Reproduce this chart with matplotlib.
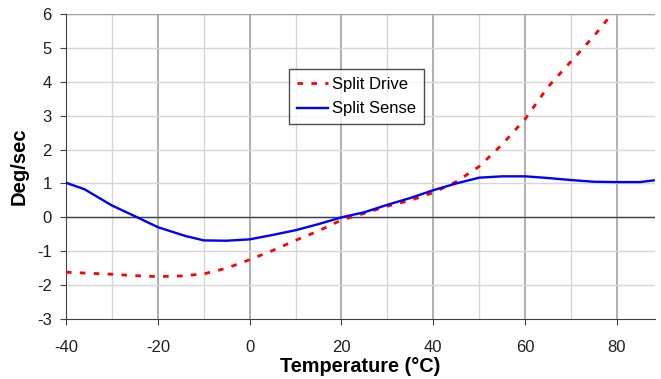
import matplotlib
matplotlib.use("Agg")
import matplotlib.pyplot as plt

# === DATA ===
temp_sense = [-40, -36, -30, -24, -20, -14, -10, -5, 0, 5, 10, 15, 20, 25,
              30, 35, 40, 45, 50, 55, 60, 65, 70, 75, 80, 85, 88]
split_sense = [1.02, 0.83, 0.35, -0.03, -0.29, -0.55, -0.68, -0.69, -0.65,
               -0.52, -0.38, -0.2, 0.0, 0.15, 0.37, 0.57, 0.8, 1.0, 1.17,
               1.21, 1.21, 1.16, 1.1, 1.05, 1.04, 1.04, 1.09]

temp_drive = [-40, -35, -30, -25, -20, -15, -10, -5, 0, 5, 10, 15, 20, 25,
              30, 35, 40, 45, 50, 55, 60, 65, 70, 75, 78]
split_drive = [-1.62, -1.65, -1.68, -1.72, -1.75, -1.73, -1.67, -1.5, -1.25,
               -0.98, -0.68, -0.4, -0.08, 0.12, 0.33, 0.5, 0.73, 1.05, 1.5,
               2.15, 2.9, 3.85, 4.6, 5.35, 5.85]

x_ticks = [-40, -20, 0, 20, 40, 60, 80]
y_ticks = [-3, -2, -1, 0, 1, 2, 3, 4, 5, 6]

plt.rcParams["font.family"] = ["Liberation Sans", "DejaVu Sans"]
plt.rcParams["axes.unicode_minus"] = False

fig = plt.figure(figsize=(6.61, 3.79), dpi=100)
ax = fig.add_axes([66 / 661, 1 - 319 / 379, (655 - 66) / 661, (319 - 14) / 379])

# griglia
for x in range(-30, 89, 10):
    if x % 20 == 0:
        ax.axvline(x, color="#a8a8a8", lw=1.3, zorder=0)
    else:
        ax.axvline(x, color="#d6d6d6", lw=1, zorder=0)
for y in y_ticks[1:]:
    ax.axhline(y, color="#d6d6d6", lw=1, zorder=0)
ax.axhline(0, color="#404040", lw=1, zorder=1)
ax.axhline(6, color="#a0a0a0", lw=1, zorder=0)

ax.plot(temp_drive, split_drive, color="red", lw=2, linestyle=(0, (2, 3)),
        label="Split Drive", zorder=3)
ax.plot(temp_sense, split_sense, color="blue", lw=1.7, label="Split Sense",
        zorder=4)

ax.set_xlim(-40, 88.3)
ax.set_ylim(-3, 6)
ax.set_xticks(x_ticks)
ax.set_yticks(y_ticks)
ax.tick_params(direction="out", length=4.3, color="#404040", labelsize=12,
               labelcolor="#202020")
ax.tick_params(axis="x", pad=11)
ax.tick_params(axis="y", pad=6)
for s in ["top", "right"]:
    ax.spines[s].set_visible(False)
for s in ["left", "bottom"]:
    ax.spines[s].set_color("#404040")

ax.set_xlabel("Temperature (°C)", fontsize=14.3, fontweight="bold", labelpad=1)
ax.set_ylabel("Deg/sec", fontsize=14.5, fontweight="bold", labelpad=6)

leg = ax.legend(loc="upper left", bbox_to_anchor=((289 - 66) / 589, (319 - 69) / 305),
                borderaxespad=0, frameon=True, fancybox=False, fontsize=12,
                handlelength=1.9, handletextpad=0.25, borderpad=0.45,
                labelspacing=0.6)
leg.get_frame().set_edgecolor("#202020")
leg.get_frame().set_linewidth(1)

fig.savefig("out.png", dpi=100)
